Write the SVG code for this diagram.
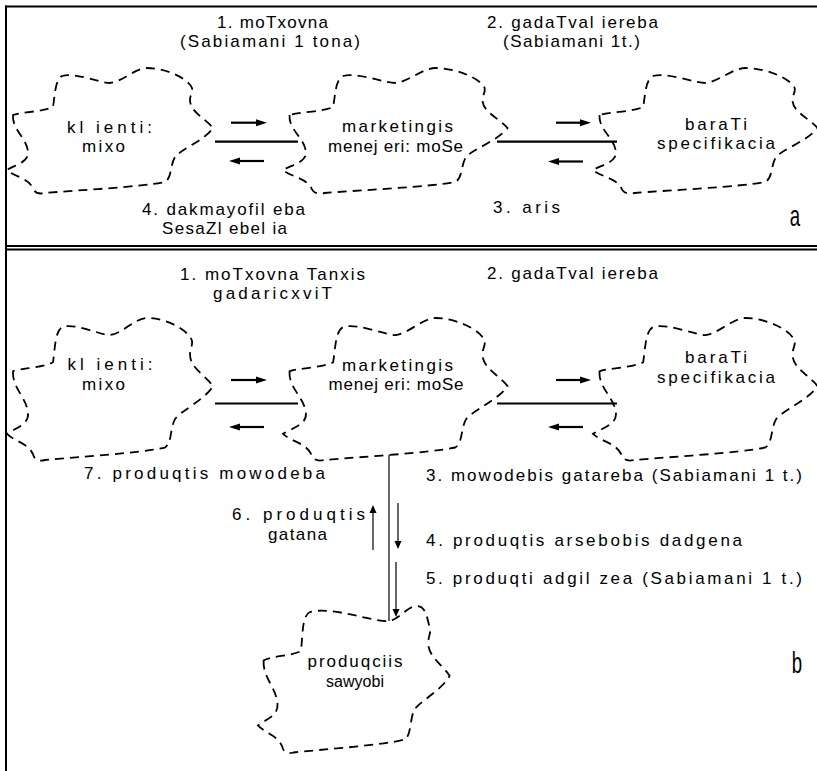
<svg xmlns="http://www.w3.org/2000/svg" width="817" height="771" viewBox="0 0 817 771">
<style>
text{font-family:"Liberation Sans",Arial,sans-serif;font-size:17px;fill:#000}
.c{text-anchor:middle}
.e{text-anchor:end}
.cloud{fill:none;stroke:#000;stroke-width:1.8;stroke-dasharray:9 6}
.bold{stroke:#000;stroke-width:2.2;fill:none}
.thin{stroke:#000;stroke-width:1.2;fill:none}
.frame{stroke:#000;stroke-width:2;fill:none}
</style>
<defs>
<path id="cl" class="cloud" vector-effect="non-scaling-stroke" d="M6,47 C5,62 20,70 21,84 C22,94 8,97 0,102 C8,109 21,110 26,120 C28,126 33,126 38,125 C73,122 133,119 158,114 C165,110 163,97 168,89 C173,82 198,72 206,60 C198,50 183,44 183,32 C183,27 186,24 185,20 C181,10 158,0 140,0 C128,0 115,14 103,15 C93,15 68,4 55,8 C48,12 48,27 46,39 C36,44 13,44 6,47 Z"/>
<marker id="ahB" viewBox="0 0 11 8" refX="2" refY="4" markerWidth="11" markerHeight="8" markerUnits="userSpaceOnUse" orient="auto"><path d="M0,0.5L11,4L0,7.5z"/></marker>
<marker id="ahS" viewBox="0 0 8 8" refX="1" refY="4" markerWidth="8" markerHeight="8" markerUnits="userSpaceOnUse" orient="auto"><path d="M0,0.5L8,4L0,7.5z"/></marker>
</defs>

<g id="frame">
<line class="frame" x1="5" y1="6.5" x2="817" y2="6.5"/>
<line class="frame" x1="6" y1="5.5" x2="6" y2="771"/>
<line class="frame" x1="5" y1="246" x2="817" y2="246"/>
<line class="frame" x1="5" y1="249.5" x2="817" y2="249.5"/>
</g>

<!-- panel a -->
<g id="a-client"><use href="#cl" transform="translate(7,68)"/>
<text class="c" x="109.5" y="133" textLength="85">kl ienti:</text>
<text class="c" x="103.5" y="152" textLength="43">mixo</text></g>
<g id="a-marketing"><use href="#cl" transform="translate(283,68) scale(1.09,1)"/>
<text class="c" x="397.5" y="132" textLength="111">marketingis</text>
<text class="c" x="395.5" y="152" textLength="135">menej eri: moSe</text></g>
<g id="a-spec"><use href="#cl" transform="translate(593,68) scale(1.09,1)"/>
<text class="c" x="716" y="130" textLength="62">baraTi</text>
<text class="c" x="716" y="149" textLength="118">specifikacia</text></g>

<!-- panel b -->
<g id="b-client"><use href="#cl" transform="translate(7,318) scale(1,1.136)"/>
<text class="c" x="110" y="370" textLength="85">kl ienti:</text>
<text class="c" x="103.5" y="390" textLength="43">mixo</text></g>
<g id="b-marketing"><use href="#cl" transform="translate(283,318) scale(1.09,1.136)"/>
<text class="c" x="397.5" y="371" textLength="111">marketingis</text>
<text class="c" x="396" y="390" textLength="135">menej eri: moSe</text></g>
<g id="b-spec"><use href="#cl" transform="translate(593,318) scale(1.09,1.136)"/>
<text class="c" x="716" y="363" textLength="62">baraTi</text>
<text class="c" x="716" y="383" textLength="118">specifikacia</text></g>
<g id="b-warehouse">
<path class="cloud" d="M263.6,660.5 C262.7,678.2 276.6,687.6 277.5,704.1 C278.5,715.9 265.4,719.5 258,725.4 C265.4,733.6 277.5,734.8 282.2,746.6 C284,753.7 288.7,753.7 293.3,752.5 C325.9,749 381.7,745.4 404.9,739.5 C411.5,734.8 409.6,719.5 414.2,710 C418.9,701.8 442.1,690 449.6,675.8 C442.1,664 428.2,656.9 428.2,642.8 C428.2,636.9 431,633.3 430,628.6 C427,618 426,606 417,606 C407,606 399,620 389,621 C372,622 332,606 310,612 C302,616 303,632 301,651 C292,656 270,656 263.6,660.5 Z"/>
<text class="c" x="355" y="667" textLength="95">produqciis</text>
<text class="c" x="355" y="687" textLength="58" style="font-size:16px">sawyobi</text></g>

<g id="connectors">
<line class="bold" x1="215" y1="141.7" x2="298" y2="141.7"/>
<line class="bold" x1="231" y1="122.7" x2="258" y2="122.7" marker-end="url(#ahB)"/>
<line class="bold" x1="264" y1="161" x2="238" y2="161" marker-end="url(#ahB)"/>
<line class="bold" x1="497" y1="141.7" x2="617" y2="141.7"/>
<line class="bold" x1="556" y1="122.7" x2="582" y2="122.7" marker-end="url(#ahB)"/>
<line class="bold" x1="583" y1="161.5" x2="557" y2="161.5" marker-end="url(#ahB)"/>

<line class="bold" x1="215" y1="403.5" x2="298" y2="403.5"/>
<line class="bold" x1="231" y1="380" x2="258" y2="380" marker-end="url(#ahB)"/>
<line class="bold" x1="264" y1="427" x2="238" y2="427" marker-end="url(#ahB)"/>
<line class="bold" x1="497" y1="403.5" x2="617" y2="403.5"/>
<line class="bold" x1="556" y1="380" x2="582" y2="380" marker-end="url(#ahB)"/>
<line class="bold" x1="583" y1="427" x2="557" y2="427" marker-end="url(#ahB)"/>

<line class="thin" x1="389" y1="455" x2="389" y2="621"/>
<line class="thin" x1="373" y1="550" x2="373" y2="512" marker-end="url(#ahS)"/>
<line class="thin" x1="398" y1="503" x2="398" y2="542" marker-end="url(#ahS)"/>
<line class="thin" x1="396" y1="562" x2="396" y2="610" marker-end="url(#ahS)"/>
</g>

<g id="labels">
<text class="c" x="272.5" y="28" textLength="111">1. moTxovna</text>
<text class="c" x="270" y="47" textLength="180">(Sabiamani 1 tona)</text>
<text class="c" x="572.5" y="28" textLength="171">2. gadaTval iereba</text>
<text class="c" x="571.5" y="47" textLength="137">(Sabiamani 1t.)</text>
<text class="c" x="223.5" y="215" textLength="163">4. dakmayofil eba</text>
<text class="c" x="224.5" y="234" textLength="125">SesaZl ebel ia</text>
<text class="c" x="526.5" y="213" textLength="67">3. aris</text>
<text transform="translate(795,226) scale(0.62,1)" class="c" style="font-size:30px">a</text>

<text class="c" x="272.5" y="280" textLength="185">1. moTxovna Tanxis</text>
<text class="c" x="272.5" y="299" textLength="119">gadaricxviT</text>
<text class="c" x="572.5" y="279" textLength="171">2. gadaTval iereba</text>
<text class="e" x="325" y="479" textLength="241">7. produqtis mowodeba</text>
<text x="426" y="481" textLength="376">3. mowodebis gatareba (Sabiamani 1 t.)</text>
<text x="232" y="520" textLength="133">6. produqtis</text>
<text class="c" x="297.5" y="540" textLength="59">gatana</text>
<text x="426" y="546" textLength="316">4. produqtis arsebobis dadgena</text>
<text x="426" y="584" textLength="376">5. produqti adgil zea (Sabiamani 1 t.)</text>
<text transform="translate(797,673) scale(0.62,1)" class="c" style="font-size:30px">b</text>
</g>
</svg>
